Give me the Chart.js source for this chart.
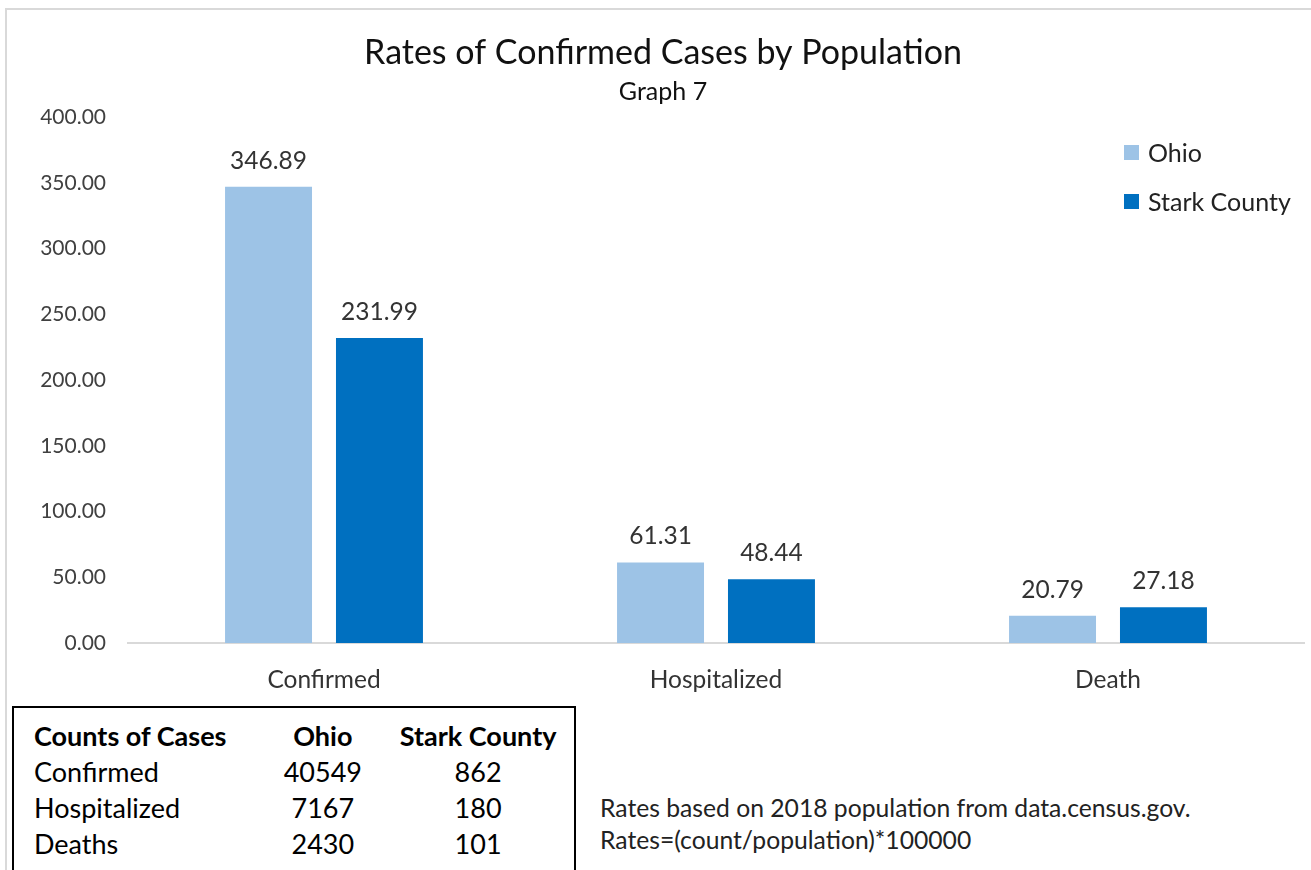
<!DOCTYPE html>
<html lang="en">
<head>
<meta charset="utf-8">
<script src="https://cdn.jsdelivr.net/npm/chart.js@4.4.1/dist/chart.umd.min.js"></script>
<style>
    body { margin: 0; background: #fff; font-family: Lato, "Open Sans", sans-serif; }
    #wrap { position: relative; width: 1311px; height: 870px; overflow: hidden; background: #fff; }
    #frame { position: absolute; left: 5px; top: 8px; right: -4px; bottom: -4px;
             border-top: 2px solid #d9d9d9; border-left: 2px solid #d9d9d9; }
    #chartBox { position: absolute; left: 0; top: 0; width: 1311px; height: 700px; }
    #legend { position: absolute; left: 1124px; top: 133px; font-size: 25px; color: #222; }
    .legItem { display: flex; align-items: center; height: 38px; margin-bottom: 11px; }
    .legSwatch { width: 15px; height: 15px; margin-right: 9px; }
    #countsBox { position: absolute; left: 12px; top: 706px; width: 564px; height: 220px;
                 border: 2px solid #000; box-sizing: border-box; }
    #countsTable { border-collapse: collapse; margin-top: 10px; font-size: 27px; color: #000; }
    #countsTable td, #countsTable th { height: 36px; padding: 0; line-height: 36px; white-space: nowrap; }
    #countsTable th { font-weight: bold; }
    #note { position: absolute; left: 600px; top: 792px; font-size: 24.7px; line-height: 32px; color: #222; }
</style>
</head>
<body>
<div id="wrap">
    <div id="frame"></div>
    <div id="chartBox"><canvas id="ratesChart"></canvas></div>
    <div id="legend"></div>
    <div id="countsBox"><table id="countsTable"></table></div>
    <div id="note">Rates based on 2018 population from data.census.gov.<br>Rates=(count/population)*100000</div>
</div>

<script>
    // rates per 100000
    const categories = ["Confirmed", "Hospitalized", "Death"];
    const ohioRates = [346.89, 61.31, 20.79];
    const starkRates = [231.99, 48.44, 27.18];
    const seriesNames = ["Ohio", "Stark County"];
    const yMax = 400;
    const yStep = 50;

    // counts table
    const countHeaders = ["Counts of Cases", "Ohio", "Stark County"];
    const countRows = ["Confirmed", "Hospitalized", "Deaths"];
    const ohioCounts = [40549, 7167, 2430];
    const starkCounts = [862, 180, 101];

    const colors = ["#9dc3e6", "#0070c0"];
    const font = "Lato, 'Open Sans', sans-serif";

    // value labels above each bar
    const barValues = {
        id: "barValues",
        afterDatasetsDraw(chart) {
            const ctx = chart.ctx;
            ctx.save();
            ctx.font = "24.5px " + font;
            ctx.fillStyle = "#333";
            ctx.textAlign = "center";
            ctx.textBaseline = "middle";
            chart.data.datasets.forEach((ds, i) => {
                chart.getDatasetMeta(i).data.forEach((bar, j) => {
                    ctx.fillText(ds.data[j].toFixed(2), bar.x, bar.y - 26);
                });
            });
            ctx.restore();
        }
    };

    const chart = new Chart(document.getElementById("ratesChart"), {
        type: "bar",
        data: {
            labels: categories,
            datasets: [
                { label: seriesNames[0], data: ohioRates, backgroundColor: colors[0] },
                { label: seriesNames[1], data: starkRates, backgroundColor: colors[1] }
            ]
        },
        options: {
            responsive: true,
            maintainAspectRatio: false,
            animation: false,
            categoryPercentage: 0.566,
            barPercentage: 0.784,
            layout: { padding: { left: 22, right: 7, top: 0, bottom: 0 } },
            plugins: {
                legend: { display: false },
                tooltip: { enabled: false },
                title: {
                    display: true,
                    text: "Rates of Confirmed Cases by Population",
                    color: "#111",
                    font: { family: font, size: 34, weight: "normal", lineHeight: 1.2 },
                    padding: { top: 32.6, bottom: 0 }
                },
                subtitle: {
                    display: true,
                    text: "Graph 7",
                    color: "#111",
                    font: { family: font, size: 25, weight: "normal", lineHeight: 1.2 },
                    padding: { top: 3.6, bottom: 10 }
                }
            },
            scales: {
                x: {
                    grid: { display: true, drawOnChartArea: false, drawTicks: false },
                    border: { display: true, color: "#d9d9d9", width: 2 },
                    ticks: { color: "#333", padding: 22, font: { family: font, size: 24.5 } },
                    afterFit: s => { s.height = 57; }
                },
                y: {
                    min: 0,
                    max: yMax,
                    grid: { display: false, drawTicks: false },
                    border: { display: false },
                    ticks: {
                        stepSize: yStep,
                        color: "#404040",
                        padding: 22,
                        font: { family: font, size: 21 },
                        callback: v => v.toFixed(2)
                    },
                    afterFit: s => { s.width = 106; }
                }
            }
        },
        plugins: [barValues]
    });

    // legend from the datasets
    const legend = document.getElementById("legend");
    chart.data.datasets.forEach(ds => {
        const item = document.createElement("div");
        item.className = "legItem";
        item.innerHTML = `<span class="legSwatch" style="background:${ds.backgroundColor}"></span><span>${ds.label}</span>`;
        legend.appendChild(item);
    });

    // counts table
    const table = document.getElementById("countsTable");
    const colW = [236, 126, 198];
    let html = "<tr>" + countHeaders.map((h, i) =>
        `<th style="width:${colW[i]}px;text-align:${i ? "center" : "left"};padding-left:${i ? 0 : 20}px">${h}</th>`).join("") + "</tr>";
    countRows.forEach((r, i) => {
        html += `<tr><td style="padding-left:20px">${r}</td><td style="text-align:center">${ohioCounts[i]}</td><td style="text-align:center">${starkCounts[i]}</td></tr>`;
    });
    table.innerHTML = html;
</script>
</body>
</html>
